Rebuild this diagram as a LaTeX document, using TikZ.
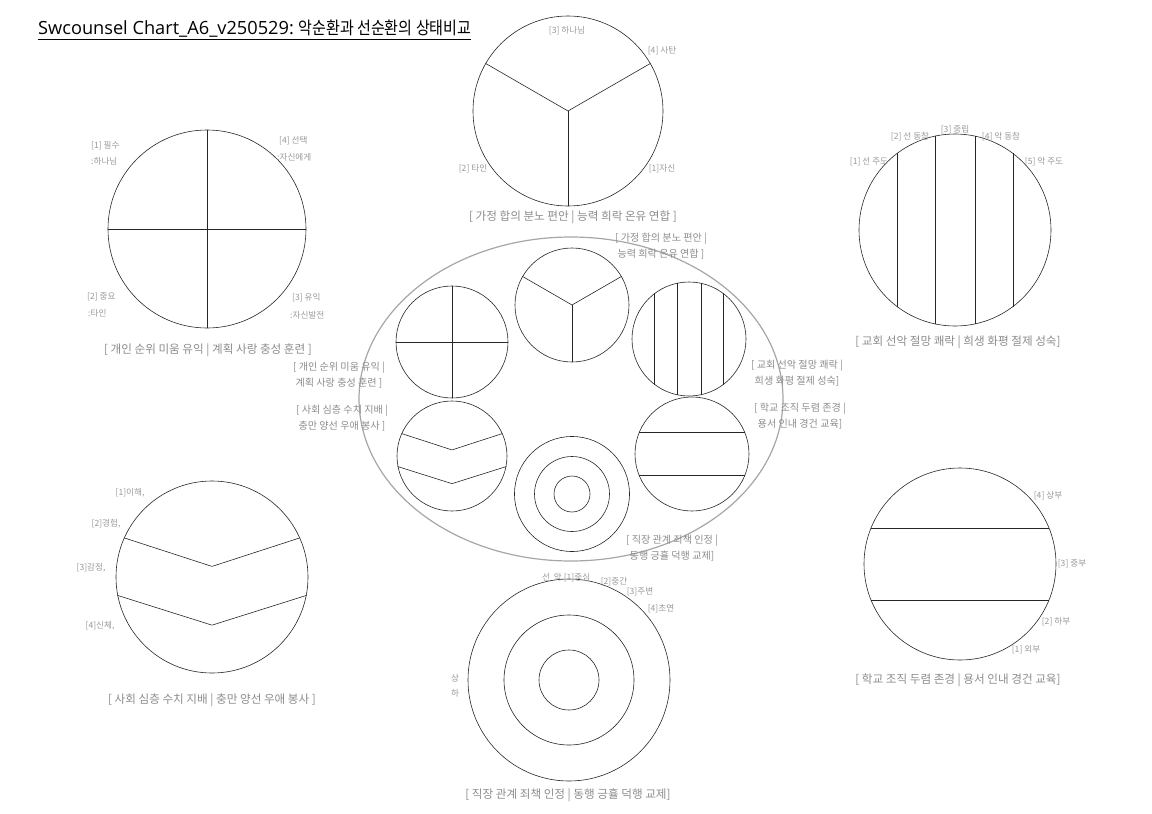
\documentclass[tikz,border=0pt]{standalone}
\usepackage{fontspec}
\setmainfont{Noto Sans CJK KR}
\newfontfamily\latinfont{Open Sans}
\newfontfamily\titlefont[FakeStretch=0.86]{Noto Sans CJK KR}
\usetikzlibrary{calc}

\begin{document}
\begin{tikzpicture}[x=1pt,y=-1pt]
    \tikzset{disc/.style = {shape=circle, draw=black!85, line width=0.6pt, inner sep=0pt, minimum size=#1}}
    \tikzset{part/.style = {draw=black!85, line width=0.6pt}}
    \tikzset{tag/.style = {text=black!40, font=\fontsize{8.6}{9}\selectfont, inner sep=0pt}}
    \tikzset{capt/.style = {text=black!45, font=\fontsize{11.6}{12}\selectfont, inner sep=0pt}}
    \tikzset{sub/.style = {text=black!45, font=\fontsize{10.1}{16.5}\selectfont, align=center, inner sep=0pt}}

    \useasboundingbox (0,0) rectangle (1152,814);

    % title
    \node[anchor=west, inner sep=0pt] (title) at (38,30) {\underline{{\latinfont\fontsize{18.2}{20}\selectfont Swcounsel Chart\_A6\_v250529:\ }{\titlefont\fontsize{17.5}{20}\selectfont 악순환과 선순환의 상태비교}}};

    % middle ellipse
    \draw[black!35, line width=1.2pt] (571,399) ellipse [x radius=212pt, y radius=162pt];

    % big circles
    \node[disc=198pt] (quad) at (207,229) {};
    \node[disc=190pt] (tri) at (568,111) {};
    \node[disc=192pt] (stripe) at (955,230) {};
    \node[disc=192pt] (chev) at (212,577) {};
    \node[disc=202pt] (ring) at (569,680) {};
    \node[disc=130pt] (ringm) at (ring.center) {};
    \node[disc=60pt] (ringi) at (ring.center) {};
    \node[disc=192pt] (band) at (960,564) {};

    % small circles
    \node[disc=112pt] (quads) at (452,342) {};
    \node[disc=114pt] (tris) at (572,305) {};
    \node[disc=114pt] (stripes) at (689,339) {};
    \node[disc=110pt] (chevs) at (452,456) {};
    \node[disc=115pt] (rings) at (572,494) {};
    \node[disc=75pt] (ringsm) at (rings.center) {};
    \node[disc=36pt] (ringsi) at (rings.center) {};
    \node[disc=114pt] (bands) at (692,454) {};

    % partitions
    \foreach \n in {quad,quads} {
        \draw[part] (\n.north) -- (\n.south);
        \draw[part] (\n.west) -- (\n.east);
    }
    \foreach \n in {tri,tris} {
        \draw[part] (\n.150) -- (\n.center) -- (\n.30);
        \draw[part] (\n.center) -- (\n.south);
    }
    \foreach \n in {stripe,stripes}
        \foreach \a in {53,78,102,127}
            \draw[part] (\n.\a) -- (\n.-\a);
    \foreach \n in {chev,chevs} {
        \draw[part] (\n.156) -- ($(\n.center)!0.11!(\n.north)$) -- (\n.24);
        \draw[part] (\n.191) -- ($(\n.center)!0.5!(\n.south)$) -- (\n.-11);
    }
    \foreach \n in {band,bands} {
        \draw[part] (\n.158) -- (\n.22);
        \draw[part] (\n.202) -- (\n.-22);
    }

    % labels: quad
    \node[tag, anchor=west] (q1) at (91,146) {[1] 필수};
    \node[tag, anchor=west] (q1b) at (91,161) {:하나님};
    \node[tag, anchor=west] (q4) at (279,141) {[4] 선택};
    \node[tag, anchor=west] (q4b) at (277,157) {:자신에게};
    \node[tag, anchor=west] (q2) at (87,297) {[2] 중요};
    \node[tag, anchor=west] (q2b) at (88,313) {:타인};
    \node[tag, anchor=west] (q3) at (292,298) {[3] 유익};
    \node[tag, anchor=west] (q3b) at (290,315) {:자신발전};
    \node[capt] (qcap) at (208,350) {[ 개인 순위 미움 유익 | 계획 사랑 충성 훈련 ]};

    % labels: tri
    \node[tag] (t3) at (567,31) {[3] 하나님};
    \node[tag] (t4) at (662,51) {[4] 사탄};
    \node[tag] (t2) at (473,169) {[2] 타인};
    \node[tag] (t1) at (662,169) {[1]자신};
    \node[capt] (tcap) at (573,217) {[ 가정 합의 분노 편안 | 능력 희락 온유 연합 ]};

    % labels: stripe
    \node[tag] (s1) at (869,162) {[1] 선 주도};
    \node[tag] (s2) at (910,137) {[2] 선 동참};
    \node[tag] (s3) at (955,130) {[3] 중립};
    \node[tag] (s4) at (1001,137) {[4] 악 동참};
    \node[tag] (s5) at (1044,162) {[5] 악 주도};
    \node[capt] (scap) at (958,342) {[ 교회 선악 절망 쾌락 | 희생 화평 절제 성숙]};

    % labels: chev
    \node[tag] (c1) at (130,493) {[1]이해,};
    \node[tag] (c2) at (106,524) {[2]경험,};
    \node[tag] (c3) at (91,568) {[3]감정,};
    \node[tag] (c4) at (100,626) {[4]신체,};
    \node[capt] (ccap) at (212,700) {[ 사회 심층 수치 지배 | 충만 양선 우애 봉사 ]};

    % labels: ring
    \node[tag, anchor=west] (r1) at (542,578) {선~~악 [1]중심};
    \node[tag] (r2) at (614,582) {[2]중간};
    \node[tag] (r3) at (640,592) {[3]주변};
    \node[tag] (r4) at (661,609) {[4]초연};
    \node[tag] (rup) at (455,678) {상};
    \node[tag] (rdn) at (455,693) {하};
    \node[capt] (rcap) at (568,795) {[ 직장 관계 죄책 인정 | 동행 긍휼 덕행 교제]};

    % labels: band
    \node[tag] (b4) at (1048,496) {[4] 상부};
    \node[tag] (b3) at (1072,564) {[3] 중부};
    \node[tag] (b2) at (1056,622) {[2] 하부};
    \node[tag] (b1) at (1026,650) {[1] 외부};
    \node[capt] (bcap) at (958,680) {[ 학교 조직 두렴 존경 | 용서 인내 경건 교육]};

    % labels: middle group
    \node[sub] (tsub) at (661,246) {[ 가정 합의 분노 편안 |\\능력 희락 온유 연합 ]};
    \node[sub] (qsub) at (339,375) {[ 개인 순위 미움 유익 |\\계획 사랑 충성 훈련 ]};
    \node[sub] (ssub) at (797,373) {[ 교회 선악 절망 쾌락 |\\희생 화평 절제 성숙]};
    \node[sub] (csub) at (342,418) {[ 사회 심층 수치 지배 |\\충만 양선 우애 봉사 ]};
    \node[sub] (bsub) at (800,416) {[ 학교 조직 두렴 존경 |\\용서 인내 경건 교육]};
    \node[sub] (rsub) at (672,548) {[ 직장 관계 죄책 인정 |\\동행 긍휼 덕행 교제]};
\end{tikzpicture}
\end{document}
